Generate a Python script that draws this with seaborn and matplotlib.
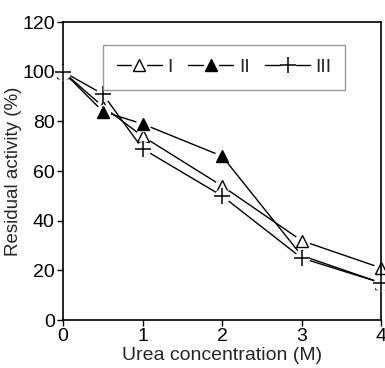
import matplotlib
matplotlib.use("Agg")
import matplotlib.pyplot as plt
from matplotlib.lines import Line2D
from matplotlib.legend_handler import HandlerTuple
import seaborn as sns
import pandas as pd

# urea concentration (M)
urea = [0, 0.5, 1, 2, 3, 4]
act_I = [100, 86, 74, 54, 32, 21]
act_II = [100, 84, 79, 66, 26, 15]
act_III = [100, 91, 69, 50, 25, 15]
labels = ["I", "II", "III"]

sns.set_style("white")
plt.rcParams["font.family"] = ["Liberation Sans", "DejaVu Sans"]
FS = 14

df = pd.DataFrame({"urea": urea, "I": act_I, "II": act_II, "III": act_III})

fig = plt.figure(figsize=(3.85, 3.68), dpi=100)
ax = fig.add_axes([0.164, 0.130, 0.826, 0.810])

styles = {
    "I": dict(marker="^", ms=8, mfc="white", mec="black", mew=1.0),
    "II": dict(marker="^", ms=8, mfc="black", mec="black", mew=1.0),
    "III": dict(marker="+", ms=11, mfc="black", mec="black", mew=1.1),
}
halo = dict(ls="", marker="o", ms=10, mfc="white", mec="white")

z = 2
for name in labels:
    sns.lineplot(data=df, x="urea", y=name, ax=ax, color="black", lw=1.0, zorder=z)
    # white halo round the markers, leaves the small gaps seen in the original
    ax.plot(df["urea"], df[name], zorder=z + 0.1, clip_on=False, **halo)
    ax.plot(df["urea"], df[name], ls="", color="black", zorder=z + 0.2, clip_on=False,
            **styles[name])
    z += 1

ax.set_xlim(0, 4)
ax.set_ylim(0, 120)
ax.set_xticks([0, 1, 2, 3, 4])
ax.set_yticks([0, 20, 40, 60, 80, 100, 120])
ax.tick_params(axis="both", direction="out", length=4, width=1, labelsize=FS,
               bottom=True, left=True, pad=2, colors="black")
for sp in ax.spines.values():
    sp.set_color("black")
    sp.set_linewidth(1.2)
ax.set_xlabel("Urea concentration (M)", fontsize=FS, labelpad=1)
ax.set_ylabel("Residual activity (%)", fontsize=13.5, labelpad=0)

handles = [(Line2D([], [], color="black", lw=1.0),
            Line2D([], [], **halo),
            Line2D([], [], ls="", color="black", **styles[n])) for n in labels]
leg = ax.legend(handles, labels, loc="upper left", bbox_to_anchor=(0.126, 0.923),
                borderaxespad=0, ncol=3, fontsize=FS, frameon=True, fancybox=False,
                handlelength=2.3, columnspacing=0.8, handletextpad=0.3, borderpad=0.7,
                handler_map={tuple: HandlerTuple(ndivide=1, pad=0)})
leg.get_frame().set_edgecolor("gray")
leg.get_frame().set_linewidth(1.0)

fig.savefig("out.png", dpi=100)
